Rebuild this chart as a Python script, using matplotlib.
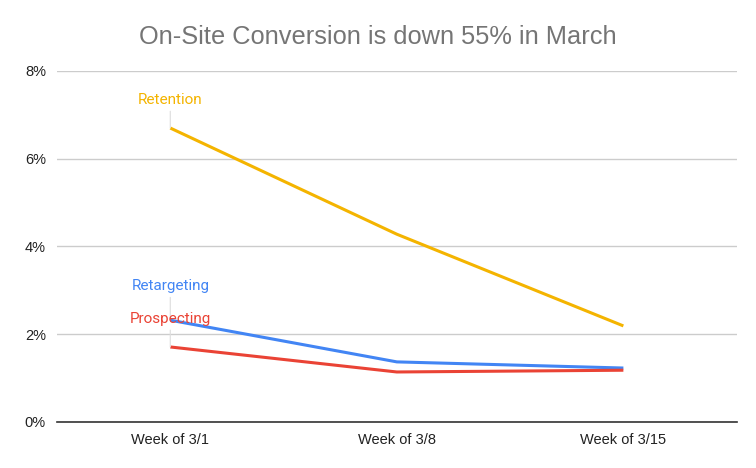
import matplotlib
matplotlib.use("Agg")
import matplotlib.pyplot as plt
from matplotlib.ticker import FuncFormatter

# data
weeks = ["Week of 3/1", "Week of 3/8", "Week of 3/15"]
retention = [6.70, 4.28, 2.19]
retargeting = [2.32, 1.37, 1.23]
prospecting = [1.71, 1.14, 1.18]

series = [
    ("Retention", retention, "#F4B400", 28),
    ("Retargeting", retargeting, "#4285F4", 34),
    ("Prospecting", prospecting, "#EA4335", 28),
]

fig = plt.figure(figsize=(7.56, 4.68), dpi=100)
ax = fig.add_axes([0.0754, 0.0983, 0.899, 0.750])

x = list(range(len(weeks)))
for name, vals, col, off in series:
    ax.plot(x, vals, color=col, lw=2.2, solid_capstyle="butt", zorder=3)
    ax.annotate(name, xy=(x[0], vals[0]), xytext=(0, off), textcoords="offset pixels",
                ha="center", va="center", color=col, fontsize=11, family="Roboto",
                arrowprops=dict(arrowstyle="-", color="#dddddd", lw=0.8,
                                shrinkA=1, shrinkB=0), zorder=4)

ax.set_xlim(-0.5, 2.5)
ax.set_ylim(0, 8)
ax.set_yticks([0, 2, 4, 6, 8])
ax.yaxis.set_major_formatter(FuncFormatter(lambda v, p: f"{v:.0f}%"))
ax.set_xticks(x)
ax.set_xticklabels(weeks)
ax.grid(axis="y", color="#cccccc", lw=1)
ax.set_axisbelow(True)
for s in ["top", "right", "left"]:
    ax.spines[s].set_visible(False)
ax.spines["bottom"].set_color("#333333")
ax.spines["bottom"].set_linewidth(1.2)
ax.tick_params(length=0, labelsize=10.5, labelcolor="#222222", pad=8)
for lab in ax.get_xticklabels() + ax.get_yticklabels():
    lab.set_family("Liberation Sans")

fig.text(0.5, 0.922, "On-Site Conversion is down 55% in March", ha="center", va="center",
         fontsize=18.3, color="#757575", family="Liberation Sans")

fig.savefig("out.png", dpi=100, facecolor="white")
